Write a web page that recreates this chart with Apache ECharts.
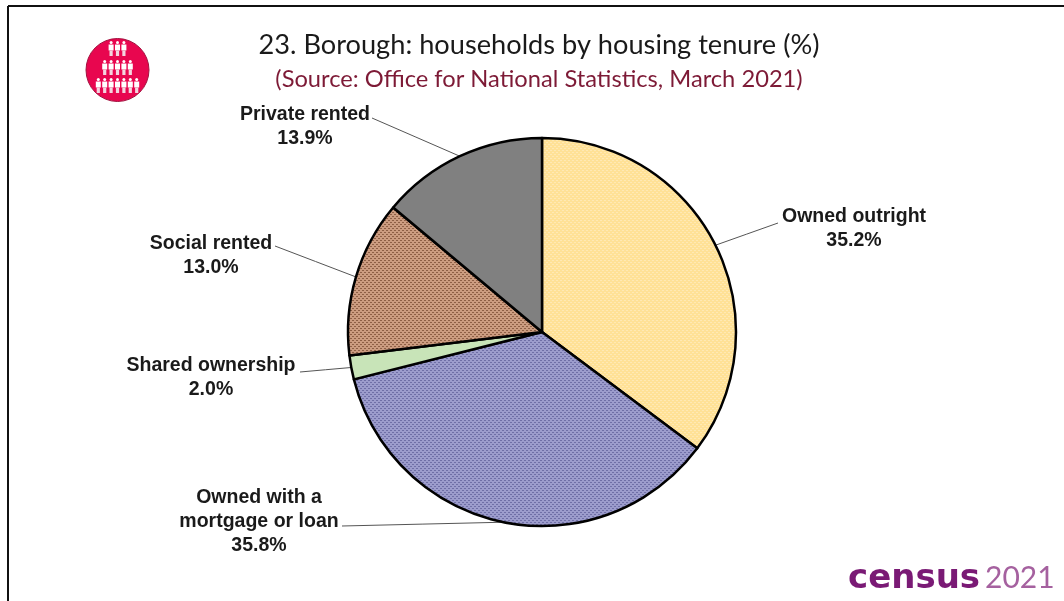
<!DOCTYPE html>
<html>
<head>
<meta charset="utf-8">
<style>
html, body { margin: 0; padding: 0; background: #fff; }
#chart { width: 1064px; height: 601px; }
</style>
<script src="https://cdn.jsdelivr.net/npm/echarts@6/dist/echarts.min.js"></script>
</head>
<body>
<div id="chart"></div>
<script>
// data
const categories = ['Owned outright', 'Owned with a\nmortgage or loan', 'Shared ownership', 'Social rented', 'Private rented'];
const shares = [35.2, 35.8, 2.0, 13.0, 13.9];

const chartTitle = '23. Borough: households by housing tenure (%)';
const chartSource = '(Source: Office for National Statistics, March 2021)';

// label centres and where each leader line meets its label, same order as categories
const labelCentres = [[854, 229], [259, 522], [211, 378], [211, 256], [305, 127]];
const leaderEnds = [[778, 223], [342, 526], [300, 372], [275, 246], [372, 118]];

// small tiled canvas for the dithered slice fills
function dither(base, dot) {
    const c = document.createElement('canvas');
    c.width = 4;
    c.height = 4;
    const ctx = c.getContext('2d');
    ctx.fillStyle = base;
    ctx.fillRect(0, 0, 4, 4);
    ctx.fillStyle = dot;
    ctx.fillRect(0, 0, 2, 1);
    ctx.fillRect(2, 2, 2, 1);
    return { image: c, repeat: 'repeat' };
}

const sliceFills = [
    dither('#ffe196', '#ffe9b4'),
    dither('#9c9ccc', '#6f6fa6'),
    '#c8e4b8',
    dither('#cc9c80', '#8e5f45'),
    '#808080'
];

// pictogram of the logo: rows of little people inside the pink circle
function logoPeople() {
    const out = [];
    [[3, 48], [5, 67], [7, 85]].forEach(([count, y]) => {
        for (let i = 0; i < count; i++) {
            const x = 117.5 + (i - (count - 1) / 2) * 6.4;
            out.push({ type: 'circle', shape: { cx: x, cy: y - 5.5, r: 1.5 }, style: { fill: '#fff' } });
            out.push({ type: 'rect', shape: { x: x - 2.5, y: y - 3.5, width: 5, height: 6 }, style: { fill: '#fff' } });
            out.push({ type: 'rect', shape: { x: x - 1.6, y: y + 2.5, width: 3.2, height: 5.5 }, style: { fill: '#f3d5df' } });
        }
    });
    return out;
}

const chart = echarts.init(document.getElementById('chart'));

chart.setOption({
    backgroundColor: '#fff',
    animation: false,
    title: [
        {
            text: chartTitle,
            left: 534, top: 27, textAlign: 'center',
            textStyle: { fontFamily: 'Lato', fontSize: 27.2, fontWeight: 'normal', color: '#1a1a1a' }
        },
        {
            text: chartSource,
            left: 534, top: 62, textAlign: 'center',
            textStyle: { fontFamily: 'Lato', fontSize: 23.7, fontWeight: 'normal', color: '#7d1a36' }
        }
    ],
    graphic: [
        { type: 'line', shape: { x1: 8, y1: 6, x2: 1064, y2: 6 }, style: { stroke: '#111', lineWidth: 2 } },
        { type: 'line', shape: { x1: 8, y1: 6, x2: 8, y2: 601 }, style: { stroke: '#111', lineWidth: 2 } },
        { type: 'circle', shape: { cx: 117.5, cy: 70, r: 31.5 }, style: { fill: '#e8064f', stroke: '#a3123f', lineWidth: 1 } },
        ...logoPeople(),
        {
            type: 'text', x: 848, y: 562,
            style: { text: 'census', fontFamily: 'DejaVu Sans', fontWeight: 'bold', fontSize: 34, fill: '#7a1a75' }
        },
        {
            type: 'text', x: 985, y: 563,
            style: { text: '2021', fontFamily: 'Lato', fontSize: 30, fill: '#a5619f' }
        }
    ],
    series: [{
        type: 'pie',
        center: [542, 332],
        radius: [0, 194],
        startAngle: 90,
        clockwise: true,
        silent: true,
        data: categories.map((name, i) => ({
            name,
            value: shares[i],
            itemStyle: { color: sliceFills[i] }
        })),
        itemStyle: { borderColor: '#000', borderWidth: 2.5 },
        label: {
            show: true,
            formatter: p => `${p.name}\n${p.value.toFixed(1)}%`,
            fontFamily: 'Liberation Sans',
            fontWeight: 'bold',
            fontSize: 19.5,
            lineHeight: 24,
            color: '#1a1a1a',
            align: 'center'
        },
        labelLine: { show: true, length: 10, length2: 10, lineStyle: { color: '#555', width: 1 } },
        // 线从扇形边缘出发，终点接到标签第一行旁边
        labelLayout: p => {
            const start = p.labelLinePoints[0];
            const end = leaderEnds[p.dataIndex];
            return {
                x: labelCentres[p.dataIndex][0],
                y: labelCentres[p.dataIndex][1],
                align: 'center',
                verticalAlign: 'middle',
                labelLinePoints: [start, [(start[0] + end[0]) / 2, (start[1] + end[1]) / 2], end]
            };
        }
    }]
});

window.addEventListener('resize', () => chart.resize());
</script>
</body>
</html>
